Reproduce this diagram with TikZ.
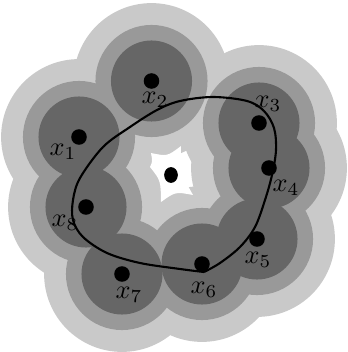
\documentclass[tikz,border=0pt]{standalone}
\begin{document}
\begin{tikzpicture}[x=0.38pt,y=-0.38pt,
  dotstyle/.style={fill=black},
  curvestyle/.style={line width=0.8pt, black}]
\definecolor{lightg}{RGB}{201,201,201}
\definecolor{midg}{RGB}{153,153,153}
\definecolor{darkg}{RGB}{102,102,102}
\useasboundingbox (0,0) rectangle (347,352);
\coordinate (p1) at (79,137);
\coordinate (p2) at (151.5,81);
\coordinate (p3) at (259,123);
\coordinate (p4) at (269,168);
\coordinate (p5) at (257,239);
\coordinate (p6) at (202,264);
\coordinate (p7) at (122,274);
\coordinate (p8) at (86,207);
\coordinate (c) at (171,175);
% outer layer
\foreach \i in {1,...,8} \fill[lightg] (p\i) circle[radius=29.6pt];
% hole
\fill[white] (151,153) .. controls (167.3,156.4) .. (181,146)
  .. controls (180.2,172.2) .. (193,195)
  .. controls (175.4,191.7) .. (161,202)
  .. controls (160.7,180.5) .. (150,167)
  .. controls (152.5,161.5) .. cycle;
% middle layer
\foreach \i in {1,...,8} \fill[midg] (p\i) circle[radius=21.3pt];
% inner layer
\foreach \i in {1,...,8} \fill[darkg] (p\i) circle[radius=15.4pt];
% curve
\draw[curvestyle] plot[smooth, tension=0.55] coordinates {
  (204,272) (220,263) (240,247) (255,227) (265,200) (272,175) (276,150)
  (274,128) (264,111) (247,101) (213,97) (180,101) (157,110) (130,127)
  (103,147) (80,178) (73,200) (73,220) (83,237) (107,253) (140,263)
  (180,269) (204,272)};
% dots
\foreach \i in {1,...,8} \fill[dotstyle] (p\i) circle[radius=2.96pt];
\fill[dotstyle] (c) ellipse[x radius=2.6pt, y radius=3pt];
% labels
\node (l1) at (63,152) {$x_1$};
\node (l2) at (155,100) {$x_2$};
\node (l3) at (268,104) {$x_3$};
\node (l4) at (286,188) {$x_4$};
\node (l5) at (258,260) {$x_5$};
\node (l6) at (204,290) {$x_6$};
\node (l7) at (129,295) {$x_7$};
\node (l8) at (65,223) {$x_8$};
\end{tikzpicture}
\end{document}
